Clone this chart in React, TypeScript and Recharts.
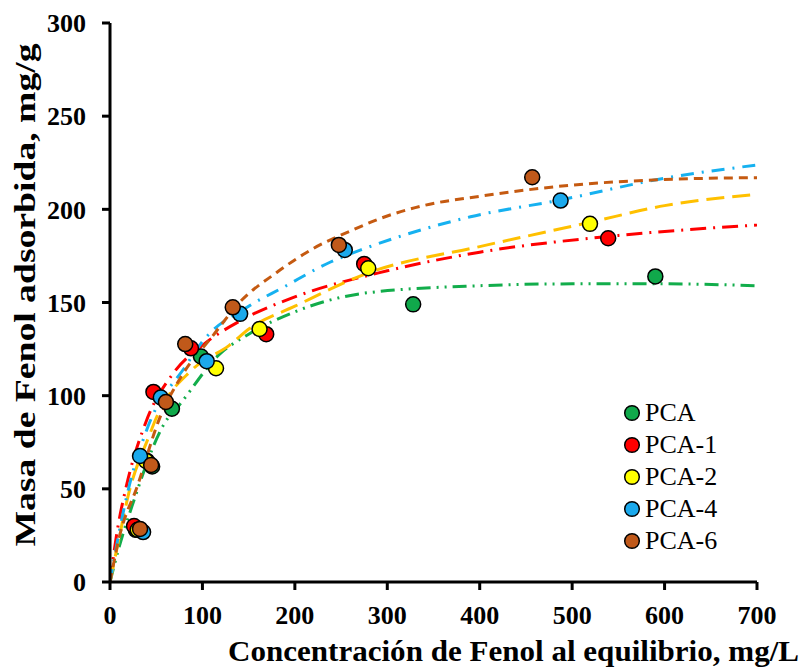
import React from 'react';
import { ComposedChart, Line, Scatter, XAxis, YAxis, Label } from 'recharts';

type P = { x: number; y: number };

// Experimental points
const pcaPts: P[] = [
  { x: 28, y: 28 }, { x: 45.6, y: 62 }, { x: 67, y: 93 }, { x: 98.5, y: 121 },
  { x: 328, y: 149 }, { x: 590, y: 164 },
];
const pca1Pts: P[] = [
  { x: 26, y: 30 }, { x: 40, y: 65 }, { x: 47, y: 102 }, { x: 87.6, y: 125.4 },
  { x: 169, y: 133 }, { x: 275, y: 170.7 }, { x: 539, y: 184.5 },
];
const pca2Pts: P[] = [
  { x: 30, y: 28 }, { x: 39, y: 65 }, { x: 114.7, y: 114.7 }, { x: 161.8, y: 135.8 },
  { x: 279.4, y: 168.4 }, { x: 519.3, y: 192.2 },
];
const pca4Pts: P[] = [
  { x: 35.8, y: 26.8 }, { x: 32.5, y: 67.6 }, { x: 55, y: 99 }, { x: 104.6, y: 118.5 },
  { x: 140.8, y: 143.9 }, { x: 254, y: 178.2 }, { x: 487.5, y: 204.7 },
];
const pca6Pts: P[] = [
  { x: 32.5, y: 28.5 }, { x: 44.5, y: 62.8 }, { x: 60.5, y: 96.6 }, { x: 81.4, y: 127.7 },
  { x: 132.8, y: 147.4 }, { x: 247.6, y: 180.9 }, { x: 456.8, y: 217.2 },
];

// Fitted model curves
const pcaFit: P[] = [
  { x: 0, y: 0 }, { x: 10, y: 19 }, { x: 24, y: 41 }, { x: 60, y: 86 }, { x: 75, y: 95 },
  { x: 118, y: 122 }, { x: 150, y: 133 }, { x: 200, y: 145 }, { x: 275, y: 155 },
  { x: 400, y: 159 }, { x: 500, y: 160 }, { x: 600, y: 160 }, { x: 700, y: 159 },
];
const pca1Fit: P[] = [
  { x: 0, y: 0 }, { x: 8, y: 28 }, { x: 17, y: 50 }, { x: 39, y: 86 }, { x: 70, y: 113 },
  { x: 100, y: 127 }, { x: 144, y: 141 }, { x: 200, y: 153 }, { x: 300, y: 167 },
  { x: 400, y: 177 }, { x: 540, y: 185.5 }, { x: 700, y: 191.6 },
];
const pca2Fit: P[] = [
  { x: 0, y: 0 }, { x: 10, y: 24 }, { x: 20, y: 47 }, { x: 42, y: 78 }, { x: 50, y: 88 },
  { x: 89, y: 114 }, { x: 129, y: 127 }, { x: 151, y: 136 }, { x: 200, y: 148 },
  { x: 280, y: 166 }, { x: 400, y: 180 }, { x: 519, y: 193 }, { x: 600, y: 202 }, { x: 700, y: 208 },
];
const pca4Fit: P[] = [
  { x: 0, y: 0 }, { x: 10, y: 27 }, { x: 20, y: 50 }, { x: 40, y: 82 }, { x: 82, y: 116 },
  { x: 100, y: 129 }, { x: 150, y: 148 }, { x: 187, y: 158 }, { x: 238, y: 171.6 },
  { x: 274, y: 178.7 }, { x: 317, y: 186 }, { x: 390, y: 196 }, { x: 487, y: 205 },
  { x: 600, y: 216.7 }, { x: 700, y: 223.8 },
];
const pca6Fit: P[] = [
  { x: 0, y: 0 }, { x: 10, y: 24 }, { x: 30, y: 52 }, { x: 53, y: 87 }, { x: 78, y: 111 },
  { x: 111, y: 132 }, { x: 140, y: 150 }, { x: 180, y: 166 }, { x: 220, y: 179 },
  { x: 263, y: 189 }, { x: 292, y: 195 }, { x: 339, y: 202 }, { x: 400, y: 207 },
  { x: 500, y: 213 }, { x: 600, y: 216 }, { x: 700, y: 217 },
];

const xTicks = [0, 100, 200, 300, 400, 500, 600, 700];
const yTicks = [0, 50, 100, 150, 200, 250, 300];
const seriesNames = ['PCA', 'PCA-1', 'PCA-2', 'PCA-4', 'PCA-6'];
const xTitle = 'Concentración de Fenol al equilibrio, mg/L';
const yTitle = 'Masa de Fenol adsorbida, mg/g';

const FONT = '"Liberation Serif", "Times New Roman", serif';

const series = [
  { name: seriesNames[0], pts: pcaPts, fit: pcaFit, dot: '#10A94B', line: '#12AD4B', dash: '14 6 2 6 2 6' },
  { name: seriesNames[1], pts: pca1Pts, fit: pca1Fit, dot: '#FF0000', line: '#FF0000', dash: '16 7 2 7' },
  { name: seriesNames[2], pts: pca2Pts, fit: pca2Fit, dot: '#FFFF00', line: '#FFC000', dash: '18 8' },
  { name: seriesNames[3], pts: pca4Pts, fit: pca4Fit, dot: '#1BA9EC', line: '#16B1F0', dash: '13 8 2 8' },
  { name: seriesNames[4], pts: pca6Pts, fit: pca6Fit, dot: '#C0591A', line: '#C55A11', dash: '9 6' },
];

const makeShape = (fill: string) => (p: any) => (
  <circle cx={p.cx} cy={p.cy} r={7.5} fill={fill} stroke="#000" strokeWidth={1.5} />
);

const LegendBox = () => (
  <div
    style={{
      position: 'absolute',
      left: 623,
      top: 397,
      fontFamily: FONT,
      fontSize: 26,
      color: '#000',
    }}
  >
    {series.map((s) => (
      <div key={s.name} style={{ display: 'flex', alignItems: 'center', height: 32 }}>
        <svg width={18} height={18} style={{ marginRight: 4 }}>
          <circle cx={9} cy={9} r={7.3} fill={s.dot} stroke="#000" strokeWidth={1.5} />
        </svg>
        <span style={{ lineHeight: '32px' }}>{s.name}</span>
      </div>
    ))}
  </div>
);

export default function App() {
  return (
    <div style={{ position: 'absolute', left: 0, top: 0, width: 804, height: 669, background: '#fff' }}>
      <ComposedChart
        width={804}
        height={669}
        margin={{ top: 23, right: 47, bottom: 0, left: 0 }}
      >
        <XAxis
          type="number"
          dataKey="x"
          domain={[0, 700]}
          ticks={xTicks}
          allowDataOverflow
          height={87}
          axisLine={{ stroke: '#000', strokeWidth: 3 }}
          tickLine={{ stroke: '#000', strokeWidth: 3 }}
          tickSize={8}
          tickMargin={16}
          tick={{ fontSize: 26, fontWeight: 'bold', fill: '#000', fontFamily: FONT }}
        >
          <Label
            content={() => (
              <text
                x={799}
                y={661}
                textAnchor="end"
                fontFamily={FONT}
                fontWeight="bold"
                fontSize={29}
                textLength={571}
                lengthAdjust="spacingAndGlyphs"
                fill="#000"
              >
                {xTitle}
              </text>
            )}
          />
        </XAxis>
        <YAxis
          type="number"
          domain={[0, 300]}
          ticks={yTicks}
          allowDataOverflow
          width={110}
          axisLine={{ stroke: '#000', strokeWidth: 3 }}
          tickLine={{ stroke: '#000', strokeWidth: 3 }}
          tickSize={8}
          tickMargin={16}
          tick={{ fontSize: 26, fontWeight: 'bold', fill: '#000', fontFamily: FONT }}
        >
          <Label
            content={() => (
              <text
                x={35}
                y={295}
                transform="rotate(-90 35 295)"
                textAnchor="middle"
                fontFamily={FONT}
                fontWeight="bold"
                fontSize={29}
                textLength={503}
                lengthAdjust="spacingAndGlyphs"
                fill="#000"
              >
                {yTitle}
              </text>
            )}
          />
        </YAxis>
        {series.map((s) => (
          <Line
            key={'l' + s.name}
            data={s.fit}
            dataKey="y"
            type="monotone"
            stroke={s.line}
            strokeWidth={3}
            strokeDasharray={s.dash}
            dot={false}
            activeDot={false}
            legendType="none"
            isAnimationActive={false}
          />
        ))}
        {series.map((s) => (
          <Scatter
            key={'s' + s.name}
            name={s.name}
            data={s.pts}
            dataKey="y"
            fill={s.dot}
            shape={makeShape(s.dot)}
            isAnimationActive={false}
          />
        ))}
      </ComposedChart>
      <LegendBox />
    </div>
  );
}
